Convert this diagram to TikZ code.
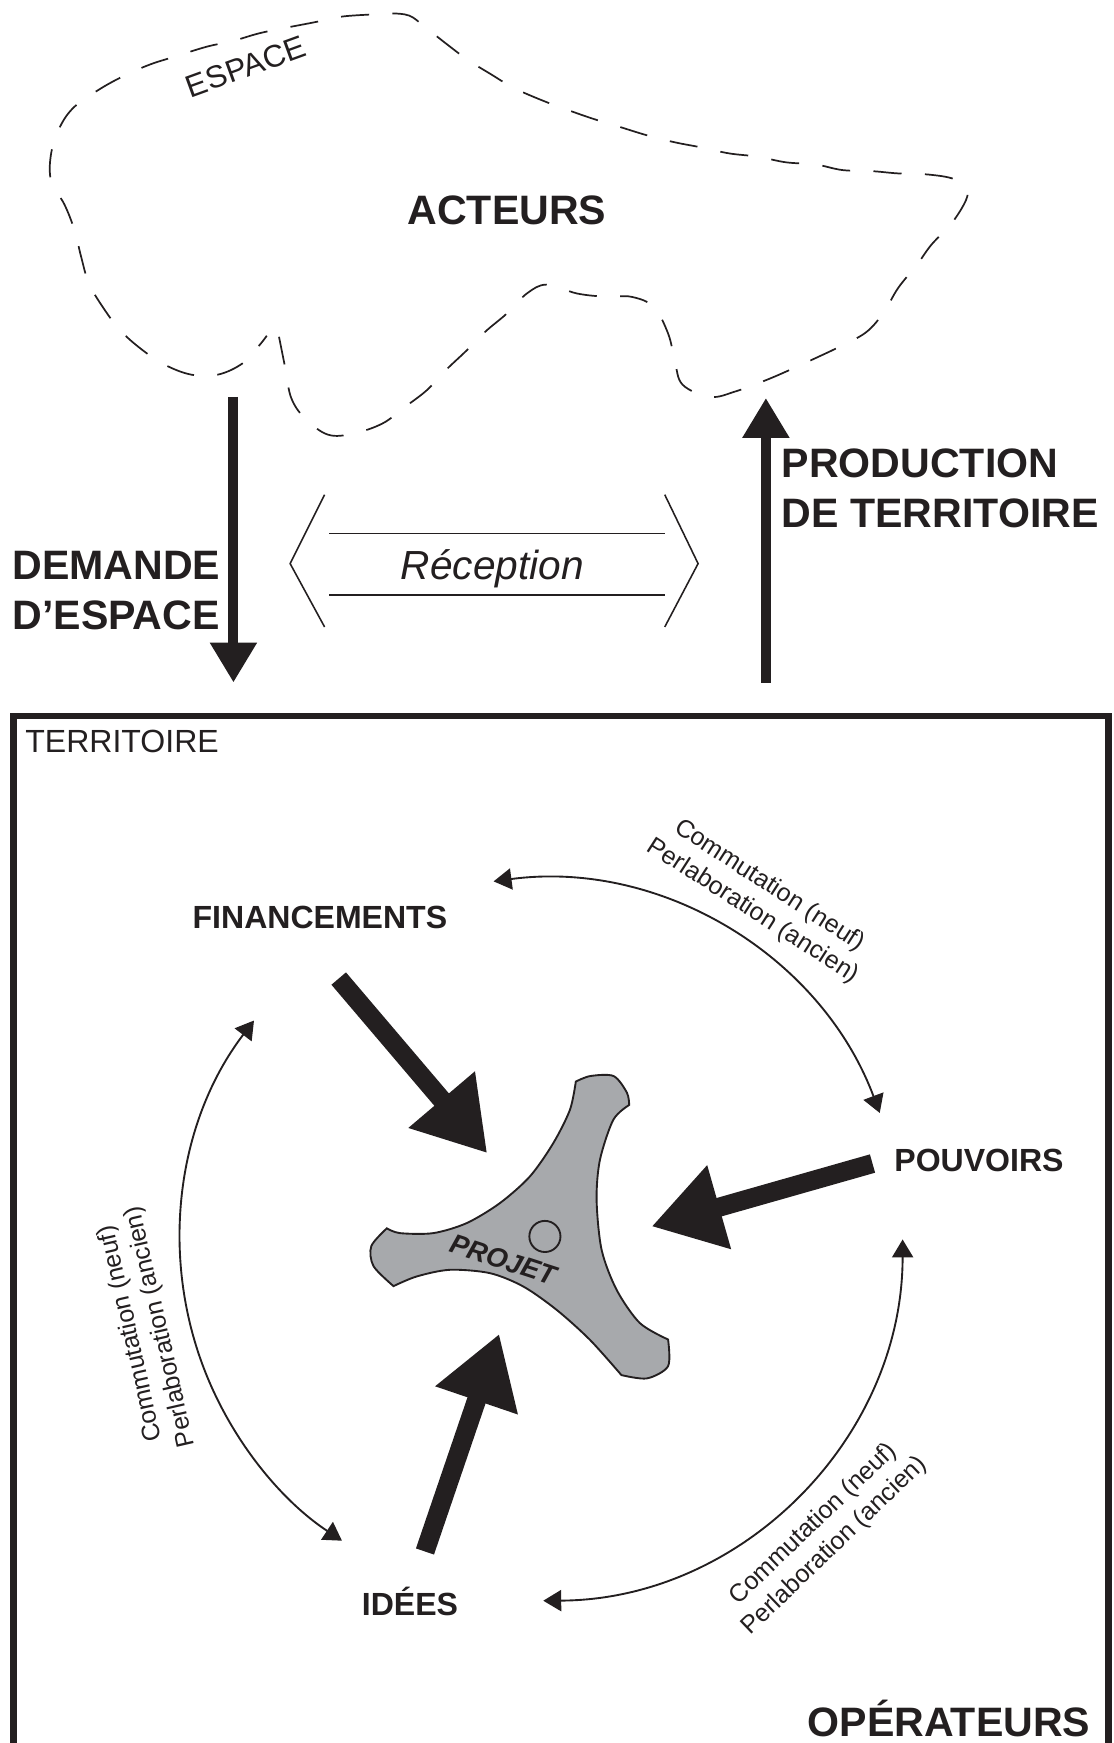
\documentclass[tikz,border=0pt]{standalone}
\usepackage{fontspec}
\setmainfont{Liberation Sans}
\usepackage{xcolor}
\usetikzlibrary{calc,positioning,arrows.meta}
\definecolor{ink}{HTML}{231F20}
\definecolor{projgray}{HTML}{A7A9AC}

\begin{document}
\begin{tikzpicture}[
    x=0.025cm, y=-0.025cm,
    every node/.style={
        inner sep=0pt,
        text=ink,
    },
    biglabel/.style={font=\bfseries\fontsize{26.3}{32}\selectfont},
    oplabel/.style={font=\bfseries\fontsize{20.5}{24}\selectfont, anchor=base},
    arclabel/.style={font=\fontsize{16}{19.5}\selectfont, align=center},
    cloudline/.style={draw=ink, line width=1.1pt, dash pattern=on 18pt off 15pt},
    thinline/.style={draw=ink, line width=1pt},
    flowarrow/.style={draw=ink, line width=6.4pt, -{Triangle[length=25.6pt,width=28.5pt]}},
    fatarrow/.style={draw=ink, line width=12.2pt, -{Triangle[length=45pt,width=52.6pt]}},
    cycarc/.style={draw=ink, line width=1.2pt,
        {Triangle[length=11.5pt,width=13.5pt]}-{Triangle[length=11.5pt,width=13.5pt]}},
    projshape/.style={fill=projgray, draw=ink, line width=1.2pt}
  ]
  \useasboundingbox (0,0) rectangle (1002,1568);

  % espace / acteurs
  \draw[cloudline] plot[smooth, tension=0.6] coordinates {
    (251,303) (257,333) (262,358) (274,376) (295,391) (318,390) (344,381)
    (363,367) (384,351) (401,333) (419,316) (437,298) (456,282) (474,264)
    (492,256) (519,264) (546,267) (568,267) (588,276) (601,300) (607,324)
    (614,346) (639,357) (662,352) (689,342) (710,333) (734,322) (755,312)
    (779,299) (795,281) (808,259) (825,238) (838,220) (856,201) (869,180)
    (869,170) (858,161) (835,157) (808,156) (785,154) (758,153) (734,148)
    (707,146) (682,141) (656,138) (633,133) (607,128) (583,122) (557,114)
    (534,107) (511,99) (487,90) (462,79) (442,67) (421,54) (401,39)
    (382,24) (368,14) (350,12) (334,13) (307,15) (283,20) (257,25)
    (233,30) (209,37) (186,42) (157,51) (135,58) (112,68) (90,80)
    (67,96) (54,114) (46,138) (46,163) (58,184) (67,207) (73,231)
    (80,255) (93,277) (108,297) (127,314) (148,328) (172,337) (196,337)
    (218,327) (233,311) (240,302)};
  \node[font=\fontsize{20}{24}\selectfont, rotate=20] (esp) at (221,60) {ESPACE};
  \node[biglabel, anchor=base] (act) at (456,202) {ACTEURS};

  % demande / production
  \coordinate (dem-top) at (210,357);
  \coordinate (dem-bot) at (210,614);
  \coordinate (prod-bot) at (689,614);
  \coordinate (prod-top) at (689,358);
  \draw[flowarrow] (dem-top) -- (dem-bot);
  \draw[flowarrow] (prod-bot) -- (prod-top);
  \node[biglabel, align=left, anchor=west] (dem) at (11,531) {DEMANDE\\D’ESPACE};
  \node[biglabel, align=left, anchor=west] (prod) at (703,439) {PRODUCTION\\DE TERRITOIRE};

  % reception
  \node[font=\itshape\fontsize{26}{32}\selectfont, anchor=base] (rec) at (443,521) {Réception};
  \draw[thinline] (292,445) -- (261,507) -- (292,564);
  \draw[thinline] (598,445) -- (628,507) -- (598,564);
  \draw[thinline] (296,480) -- (598,480);
  \draw[thinline] (296,535) -- (598,535);

  % territoire
  \draw[draw=ink, line width=4.3pt] (12,1568) -- (12,644) -- (997,644) -- (997,1568);
  \node[font=\fontsize{20.5}{24}\selectfont, anchor=base west] (terr) at (22.5,677.3) {TERRITOIRE};
  \node[biglabel, anchor=base] (oper) at (853.7,1562) {OPÉRATEURS};

  % projet
  \filldraw[projshape]
    plot[smooth] coordinates {(518,973) (531,968) (552,968) (564,983) (566,994)}
    -- plot[smooth] coordinates {(566,994) (551.7,1007.4) (539.7,1043.4) (536.7,1079.3)
        (541.2,1124.3) (554.7,1160.3) (575.6,1190.2) (601,1205)}
    -- plot[smooth] coordinates {(601,1205) (601,1229) (582,1240) (559,1237)}
    -- plot[smooth] coordinates {(559,1237) (530.7,1205.3) (500.7,1178.3) (470.7,1157.3)
        (440.7,1145.3) (404.7,1142.3) (374.8,1148.3) (354,1157)}
    -- plot[smooth] coordinates {(354,1157) (336,1139) (334,1121) (348,1105)}
    -- plot[smooth] coordinates {(348,1105) (359.8,1109.3) (389.8,1109.3) (419.8,1100.3)
        (449.7,1082.3) (476.7,1058.3) (497.7,1028.4) (512.7,998.4) (518,973)}
    -- cycle;
  \draw[draw=ink, line width=1.2pt] (490.2,1112.3) circle[radius=14];
  \node[font=\bfseries\itshape\fontsize{17.5}{20}\selectfont, rotate=-18] (projet) at (452.7,1133.3) {PROJET};

  % operateurs
  \node[oplabel] (fin) at (287.8,835.6) {FINANCEMENTS};
  \node[oplabel] (pouv) at (880.7,1053.9) {POUVOIRS};
  \node[oplabel] (idees) at (368.8,1453.5) {IDÉES};

  \coordinate (fin-tail) at (304.7,880.3);
  \coordinate (fin-tip) at (438.3,1037.4);
  \coordinate (pouv-tail) at (784.9,1046.7);
  \coordinate (pouv-tip) at (586.1,1103.3);
  \coordinate (idees-tail) at (382.3,1395.7);
  \coordinate (idees-tip) at (449.1,1199.9);
  \draw[fatarrow] (fin-tail) -- (fin-tip);
  \draw[fatarrow] (pouv-tail) -- (pouv-tip);
  \draw[fatarrow] (idees-tail) -- (idees-tip);

  % cycle
  \coordinate (ctr) at (487,1115);
  \draw[cycarc] ([shift={(-97.6:325)}]ctr) arc[start angle=-97.6, end angle=-20.5, radius=325];
  \draw[cycarc] ([shift={(-142.7:325)}]ctr) arc[start angle=-142.7, end angle=-236.5, radius=325];
  \draw[cycarc] ([shift={(-270.3:325)}]ctr) arc[start angle=-270.3, end angle=-360, radius=325];
  \node[arclabel, rotate=-32.8] (lab-top) at ([shift={(-57.2:365)}]ctr) {Commutation (neuf)\\Perlaboration (ancien)};
  \node[arclabel, rotate=102.9] (lab-left) at ([shift={(-192.9:365)}]ctr) {Commutation (neuf)\\Perlaboration (ancien)};
  \node[arclabel, rotate=43.7] (lab-right) at ([shift={(46.3:368)}]ctr) {Commutation (neuf)\\Perlaboration (ancien)};
\end{tikzpicture}
\end{document}
